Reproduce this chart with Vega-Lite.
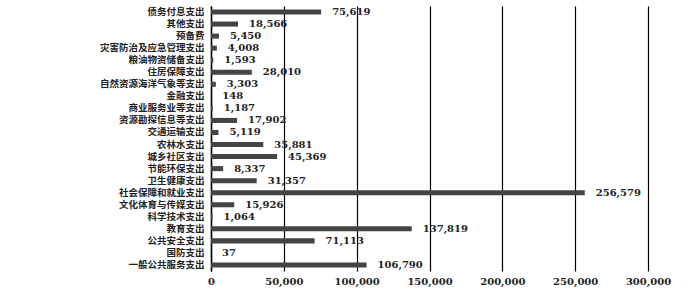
{
  "$schema": "https://vega.github.io/schema/vega-lite/v6.json",
  "width": 437,
  "height": 265,
  "autosize": {"type": "none"},
  "padding": {"left": 211, "top": 6, "right": 49, "bottom": 18},
  "background": "white",
  "config": {"view": {"stroke": null}},
  "data": {"values": [
    {"cat": "债务付息支出", "v": 75619},
    {"cat": "其他支出", "v": 18566},
    {"cat": "预备费", "v": 5450},
    {"cat": "灾害防治及应急管理支出", "v": 4008},
    {"cat": "粮油物资储备支出", "v": 1593},
    {"cat": "住房保障支出", "v": 28010},
    {"cat": "自然资源海洋气象等支出", "v": 3303},
    {"cat": "金融支出", "v": 148},
    {"cat": "商业服务业等支出", "v": 1187},
    {"cat": "资源勘探信息等支出", "v": 17902},
    {"cat": "交通运输支出", "v": 5119},
    {"cat": "农林水支出", "v": 35881},
    {"cat": "城乡社区支出", "v": 45369},
    {"cat": "节能环保支出", "v": 8337},
    {"cat": "卫生健康支出", "v": 31357},
    {"cat": "社会保障和就业支出", "v": 256579},
    {"cat": "文化体育与传媒支出", "v": 15926},
    {"cat": "科学技术支出", "v": 1064},
    {"cat": "教育支出", "v": 137819},
    {"cat": "公共安全支出", "v": 71113},
    {"cat": "国防支出", "v": 37},
    {"cat": "一般公共服务支出", "v": 106790}
  ]},
  "encoding": {
    "y": {"field": "cat", "type": "nominal", "sort": null,
      "scale": {"paddingInner": 0.58, "paddingOuter": 0.29},
      "axis": {"title": null, "ticks": false, "labelPadding": 7, "domainColor": "black", "domainWidth": 1.5,
        "labelFont": "Noto Sans CJK SC", "labelFontWeight": "bold", "labelFontSize": 9.5, "labelColor": "#222"}},
    "x": {"field": "v", "type": "quantitative",
      "scale": {"domain": [0, 300000], "nice": false},
      "axis": {"title": null, "values": [0, 50000, 100000, 150000, 200000, 250000, 300000], "format": ",d",
        "grid": true, "gridColor": "black", "gridWidth": 1.2, "gridOpacity": 1, "domain": false, "ticks": false,
        "labelFlush": false, "labelOverlap": false,
        "labelPadding": 5, "labelFont": "DejaVu Serif", "labelFontWeight": "bold", "labelFontSize": 10, "labelColor": "#222"}}
  },
  "layer": [
    {"mark": {"type": "bar", "color": "#444"}},
    {"mark": {"type": "text", "align": "left", "dx": 11, "font": "DejaVu Serif", "fontWeight": "bold", "fontSize": 10, "color": "#222"},
      "encoding": {"text": {"field": "v", "type": "quantitative", "format": ",d"}}}
  ]
}
